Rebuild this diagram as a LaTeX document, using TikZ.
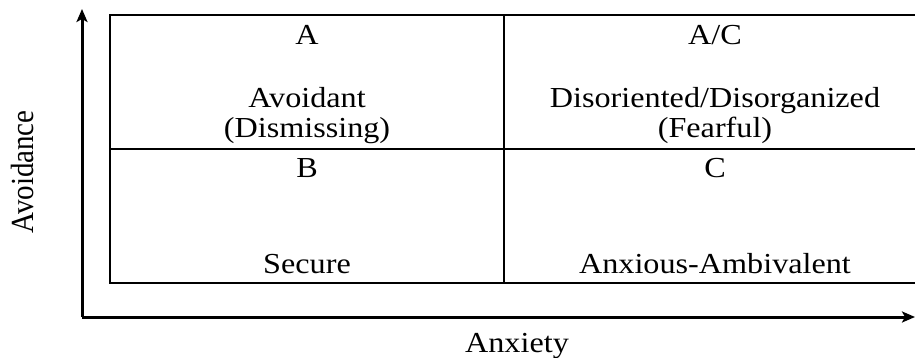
\documentclass[tikz,border=0pt]{standalone}
\usepackage{fontspec}
\setmainfont{Liberation Serif}
\usepackage{tikz}
\usetikzlibrary{arrows.meta,positioning}

\begin{document}
\begin{tikzpicture}[
  x=1pt, y=-1pt,
  cell/.style={draw, line width=2pt, minimum height=134pt, inner sep=0pt,
               outer sep=0pt, anchor=north west},
  label/.style={anchor=base, align=center, inner sep=0pt, xscale=1.11,
                font=\fontsize{29}{30}\selectfont},
  axis/.style={-{Stealth[length=13pt,width=11pt,inset=3pt]}, line width=3pt}
]
  \useasboundingbox (0,0) rectangle (915,358);

  % quadrants
  \node[cell, minimum width=394pt] (avoidcell) at (110,15) {};
  \node[cell, minimum width=422pt] (fearcell) at (avoidcell.north east) {};
  \node[cell, minimum width=394pt] (securecell) at (avoidcell.south west) {};
  \node[cell, minimum width=422pt] (anxcell) at (securecell.north east) {};

  \node[label] (typeA) at (307,45) {A};
  \node[label] (avoidant) at (307,138) {Avoidant\\(Dismissing)};
  \node[label] (typeAC) at (715,45) {A/C};
  \node[label] (fearful) at (715,138) {Disoriented/Disorganized\\(Fearful)};
  \node[label] (typeB) at (307,178) {B};
  \node[label] (secure) at (307,273) {Secure};
  \node[label] (typeC) at (715,178) {C};
  \node[label] (anxious) at (715,273) {Anxious-Ambivalent};

  % axes
  \coordinate (origin) at (82,317);
  \coordinate (ytip) at (82,9);
  \coordinate (xtip) at (915,317);
  \draw[axis] (origin) -- (ytip);
  \draw[axis] (origin) -- (xtip);

  \node[label, rotate=90] (avoidance) at (33,172) {Avoidance};
  \node[label] (anxiety) at (517,352) {Anxiety};
\end{tikzpicture}
\end{document}
